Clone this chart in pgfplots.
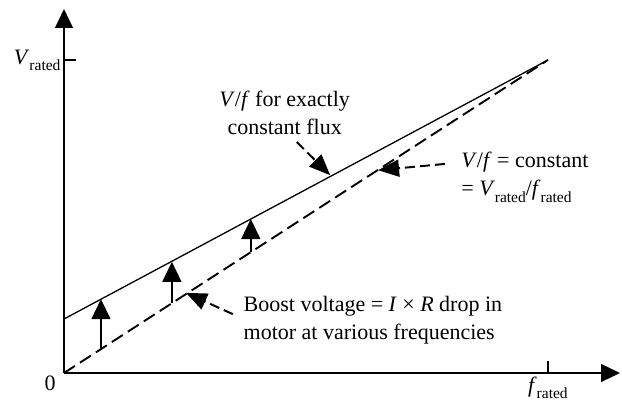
\documentclass[border=0pt]{standalone}
\usepackage{fontspec}
\setmainfont{Liberation Serif}
\usepackage{pgfplots}
\pgfplotsset{compat=1.18}
\usetikzlibrary{arrows.meta}
\newcommand\mainsz{\fontsize{22}{28}\selectfont}
\newcommand\sub[1]{\raisebox{-0.28em}{\fontsize{15.5}{16}\selectfont #1}}
\newcommand\Vr{\textit{V}\sub{rated}}
\newcommand\fr{\textit{f}\sub{rated}}
\begin{document}
\begin{tikzpicture}[font=\mainsz]
	\begin{axis}[
		scale only axis, width=556pt, height=364pt,
		xmin=0, xmax=1.149, ymin=0, ymax=1.163,
		axis lines=left,
		axis line style={line width=1.2pt, -{Triangle[length=19pt,width=18pt]}},
		xtick={1}, xticklabels={\fr},
		ytick={1}, yticklabels={\Vr},
		tick align=inside, major tick length=12pt,
		tick style={line width=1.2pt, black},
		ticklabel style={font=\mainsz},
		clip=false
		]
		% V/f for exactly constant flux (with boost)
		\addplot[black, line width=1.3pt] coordinates {(0,0.1725) (1,1)};
		% V/f = constant
		\addplot[black, line width=1.9pt, dash pattern=on 13pt off 6pt] coordinates {(0,0) (1,1)};
		% boost voltage arrows
		\addplot[black, line width=1.6pt, -{Triangle[length=20pt,width=19pt]}] coordinates {(0.0764,0.0735) (0.0764,0.236)};
		\addplot[black, line width=1.6pt, -{Triangle[length=20pt,width=19pt]}] coordinates {(0.223,0.224) (0.223,0.355)};
		\addplot[black, line width=1.6pt, -{Triangle[length=20pt,width=19pt]}] coordinates {(0.386,0.387) (0.386,0.492)};

		% annotations
		\draw[line width=2pt, dash pattern=on 10pt off 5pt, -{Triangle[length=21pt,width=17pt]}]
			(axis cs:0.481,0.738) -- (axis cs:0.55,0.632);
		\draw[line width=2pt, dash pattern=on 10pt off 5pt, -{Triangle[length=21pt,width=17pt]}]
			(axis cs:0.787,0.668) -- (axis cs:0.649,0.648);
		\draw[line width=2pt, dash pattern=on 10pt off 5pt, -{Triangle[length=21pt,width=17pt]}]
			(axis cs:0.349,0.188) -- (axis cs:0.252,0.256);

		\node[align=center, anchor=center] at (axis cs:0.456,0.83)
			{\textit{V}/\textit{f} for exactly\\constant flux};
		\node[align=left, anchor=west] at (axis cs:0.814,0.625)
			{\textit{V}/\textit{f} = constant\\= \Vr/\fr};
		\node[align=left, anchor=west] at (axis cs:0.364,0.17)
			{Boost voltage = \textit{I} × \textit{R} drop in\\motor at various frequencies};
		\node[anchor=north east, inner sep=0pt] at (axis cs:-0.017,-0.01) {0};

		\coordinate (O) at (axis cs:0,0);
	\end{axis}
	\path ([shift={(-64pt,-31pt)}]O) rectangle ++(622pt,404pt);
\end{tikzpicture}
\end{document}
